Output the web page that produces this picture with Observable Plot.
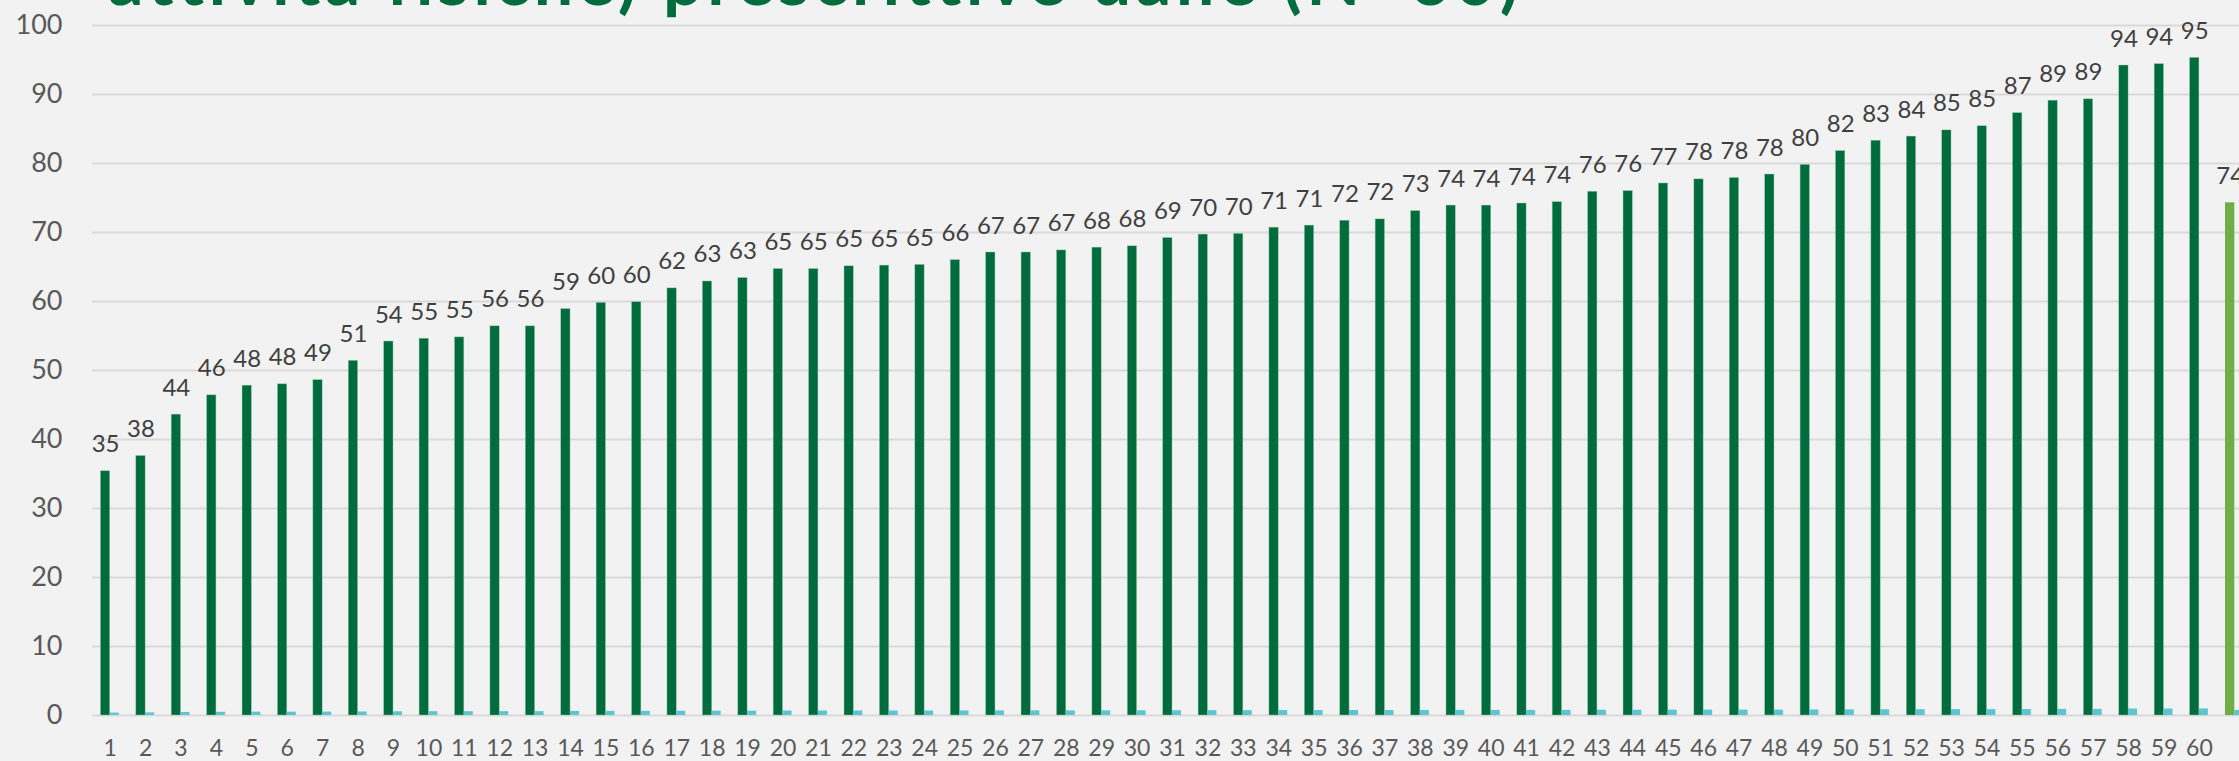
<!DOCTYPE html>
<html>
<head>
<meta charset="utf-8">
<script src="https://cdn.jsdelivr.net/npm/d3@7"></script>
<script src="https://cdn.jsdelivr.net/npm/@observablehq/plot@0.6"></script>
<style>
  html, body { margin: 0; padding: 0; background: #f2f2f2; overflow: hidden; }
  #wrap { position: relative; width: 2239px; height: 761px; overflow: hidden; background: #f2f2f2; }
  #title { position: absolute; left: 108px; top: -57px; font-family: Lato, "Open Sans", sans-serif; font-weight: 700; font-size: 70px; line-height: 70px; color: #006b3c; white-space: nowrap; margin: 0; }
  #chart svg { overflow: hidden; display: block; max-width: none; }
</style>
</head>
<body>
<div id="wrap">
  <div id="chart"></div>
  <h1 id="title">attività fisiche) prescrittive dalle (N=60)</h1>
</div>
<script>
const categories = ["1","2","3","4","5","6","7","8","9","10","11","12","13","14","15","16","17","18","19","20",
  "21","22","23","24","25","26","27","28","29","30","31","32","33","34","35","36","37","38","39","40",
  "41","42","43","44","45","46","47","48","49","50","51","52","53","54","55","56","57","58","59","60","Media"];
const tickLabels = ["1","2","3","4","5","6","7","8","9","10","11","12","13","14","15","16","17","18","19","20",
  "21","22","23","24","25","26","27","28","29","30","31","32","33","34","35","36","37","38","39","40",
  "41","42","43","44","45","46","47","48","49","50","51","52","53","54","55","56","57","58","59","60",""];
const scores = [35.4,37.6,43.6,46.4,47.8,48.0,48.6,51.4,54.2,54.6,54.8,56.4,56.4,58.9,59.8,59.9,61.9,62.9,63.4,64.7,
  64.7,65.1,65.2,65.3,66.0,67.1,67.1,67.4,67.8,68.0,69.2,69.7,69.8,70.7,71.0,71.7,71.9,73.1,73.9,73.9,
  74.2,74.4,75.9,76.0,77.1,77.7,77.9,78.4,79.8,81.8,83.3,83.9,84.8,85.4,87.3,89.1,89.3,94.2,94.4,95.3,74.3];
const shares = [0.35,0.38,0.44,0.46,0.48,0.48,0.49,0.51,0.54,0.55,0.55,0.56,0.56,0.59,0.60,0.60,0.62,0.63,0.63,0.65,
  0.65,0.65,0.65,0.65,0.66,0.67,0.67,0.67,0.68,0.68,0.69,0.70,0.70,0.71,0.71,0.72,0.72,0.73,0.74,0.74,
  0.74,0.74,0.76,0.76,0.77,0.78,0.78,0.78,0.80,0.82,0.83,0.84,0.85,0.85,0.87,0.89,0.89,0.94,0.94,0.95,0.74];
const groups = categories.map((c, i) => i < 60 ? "paziente" : "media");

const data = categories.map((c, i) => ({cat: c, score: scores[i], share: shares[i], group: groups[i]}));

const W = 2239, H = 761;
const left = 92, step = 35.41;
const xRange = [left, left + step * categories.length];
const halfStep = step / 2;
const barW = 9.3, tealW = 9;

const chart = Plot.plot({
  width: W,
  height: H,
  marginTop: 25,
  marginBottom: 46,
  marginLeft: left,
  marginRight: 0,
  style: {background: "#f2f2f2", fontFamily: "Lato, 'Open Sans', sans-serif"},
  x: {domain: categories, range: xRange, padding: 0, round: false, axis: null},
  y: {domain: [0, 100], axis: null},
  marks: [
    Plot.gridY(d3.range(0, 101, 10), {stroke: "#d9d9d9", strokeOpacity: 1, strokeWidth: 2}),
    Plot.axisY(d3.range(0, 101, 10), {tickSize: 0, tickPadding: 30, fontSize: 27, fill: "#595959", label: null}),
    Plot.axisX(categories, {tickSize: 0, tickPadding: 24, fontSize: 23, fill: "#595959", label: null,
      tickFormat: d => tickLabels[categories.indexOf(d)]}),
    Plot.barY(data.filter(d => d.group === "paziente"), {x: "cat", y: "score", fill: "#006b3c",
      insetLeft: halfStep - barW, insetRight: halfStep, stroke: "#8fcaa8", strokeWidth: 0.6, strokeOpacity: 0.7}),
    Plot.barY(data.filter(d => d.group === "media"), {x: "cat", y: "score", fill: "#70ad47",
      insetLeft: halfStep - barW, insetRight: halfStep}),
    Plot.barY(data, {x: "cat", y: "share", fill: "#5bc5d0",
      insetLeft: halfStep, insetRight: halfStep - tealW}),
    Plot.text(data, {x: "cat", y: "score", text: d => d3.format(".0f")(d.score), dx: -barW / 2, dy: -19,
      lineAnchor: "bottom", fontSize: 24, fill: "#404040"})
  ]
});
document.getElementById("chart").appendChild(chart);

// stretch the (cropped) title line to the width it spans in the original
const title = document.getElementById("title");
const targetWidth = 1410;
const natural = title.getBoundingClientRect().width;
const chars = title.textContent.length;
title.style.letterSpacing = ((targetWidth - natural) / chars) + "px";
</script>
</body>
</html>
